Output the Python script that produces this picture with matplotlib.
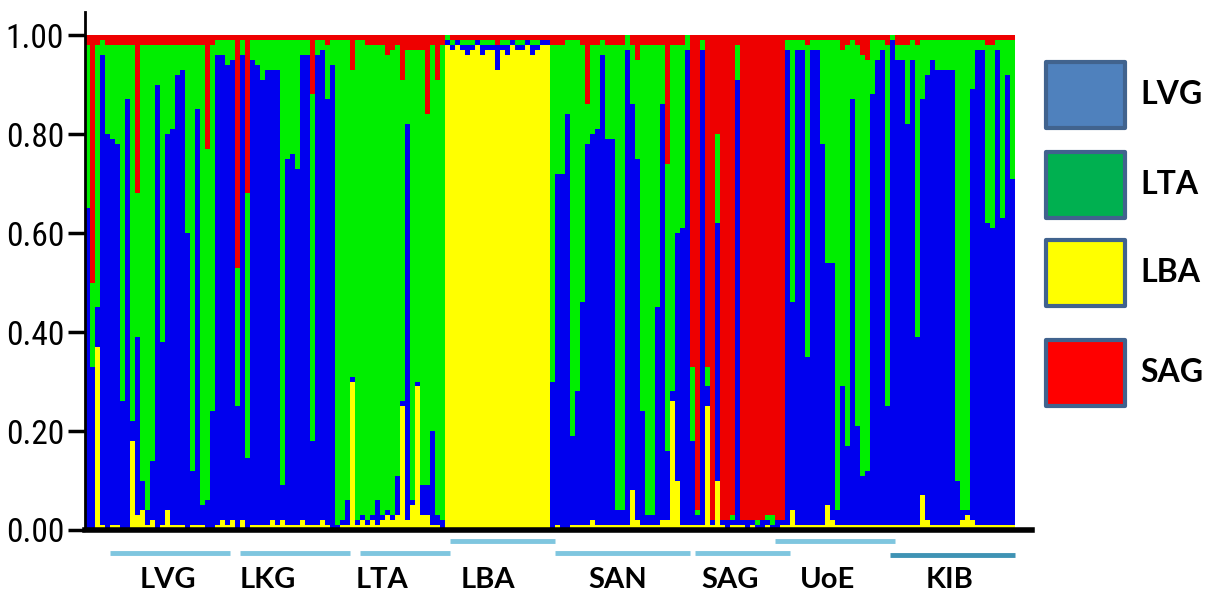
import matplotlib.pyplot as plt
from matplotlib.patches import Rectangle
from matplotlib import font_manager
import numpy as np

# membership coefficients per individual (bottom to top: LBA, LVG, LTA clusters, SAG = rest)
yellow = [
    0, 0, .37, .01, 0, .01, .01, 0, 0, .18, .03, .04, .01, .02, 0, .01, .04, .01, .01, .01,
    0, .01, .01, .01, 0, 0, .01, .02, .01, .02, 0, .02, 0, .01, .01, .01, .01, .02, .01, .02,
    .01, .01, .01, .02, .01, .01, .01, .02, .01, 0,
    0, .01, .01, .30, .01, .02, .01, .02, .01, .02, .03, .02, .03, .25, .02, .05, .29, .03, .03, .01,
    .01, 0,
    .98, .97, .98, .97, .96, .97, .98, .96, .97, .97, .93, .97, .96, .98, .97, .97, .98, .96, .97, .98,
    .98,
    0, .01, 0, 0, .01, .01, .01, .01, .02, .01, .01, .01, .01, .01, .01, .01, .08, .02, .01, .01,
    .01, .01, .02, .02, .26, .10, .01, .01, .01,
    .01, .01, .25, .01, .10, .01, 0, .01, .01, .01, 0, .01, 0, 0, .01, 0, 0, .01, .01,
    .04, .01, .01, .01, .01, .01, .01, .05, .02, .01, .01, .01, .01, .01, .01, .01, .01, .01, .01, .01,
    .01,
    .01, .01, .01, .01, .01, .07, .02, .01, .01, .01, .01, .01, .01, .02, .03, .02, .01, .01, .01, .01,
    .01, .01, .01, .01,
]
blue = [
    .65, .33, .08, .95, .80, .78, .77, .26, .87, .04, .36, .06, .03, .12, .90, .37, .76, .80, .91, .92,
    .60, .11, .84, .04, .06, .24, .95, .94, .93, .93, .25, .94, .145, .94, .93, .90, .92, .91, .92, .07,
    .74, .75, .72, .94, .95, .17, .95, .95, .86, .94,
    .01, .01, .05, .01, .01, .01, .01, .01, .05, .01, .01, .01, .08, .01, .80, .01, .01, .06, .06, .19,
    .02, .02,
    .01, .01, .01, .01, .02, .01, .01, .02, .01, .01, .05, .01, .02, .01, .01, .01, .01, .02, .01, .01,
    .01,
    .30, .71, .72, .84, .18, .27, .45, .77, .78, .80, .95, .78, .78, .03, .03, .96, .78, .73, .23, .02,
    .02, .44, .84, .14, .02, .50, .60, .96, .17,
    .02, .96, .04, .01, .52, .01, .02, .01, .90, .01, .02, .01, .01, .02, .01, .01, .02, .01, .96,
    .42, .96, .96, .34, .96, .96, .77, .49, .52, .03, .28, .16, .86, .20, .10, .11, .87, .94, .96, .24,
    .98,
    .94, .94, .81, .94, .38, .80, .90, .94, .92, .92, .92, .92, .09, .02, .01, .87, .96, .96, .61, .60,
    .96, .62, .91, .70,
]
green = [
    .33, .17, .53, .03, .18, .19, .20, .72, .11, .76, .29, .88, .94, .84, .08, .60, .18, .17, .06, .05,
    .38, .86, .13, .93, .71, .74, .03, .03, .05, .04, .28, .03, .535, .04, .05, .08, .06, .06, .06, .90,
    .24, .23, .26, .03, .03, .70, .03, .02, .11, .05,
    .98, .97, .93, .62, .97, .96, .96, .95, .92, .95, .92, .94, .87, .65, .15, .91, .67, .88, .75, .78,
    .88, .96,
    .01, .01, 0, .01, .01, .01, 0, .01, .01, .01, 0, .01, .01, 0, .01, .01, 0, .01, .01, 0,
    0,
    .68, .26, .26, .15, .80, .71, .52, .08, .18, .17, .03, .19, .19, .94, .94, .03, .12, .20, .74, .95,
    .95, .53, .12, .58, .70, .38, .37, .03, .15,
    .01, .02, .04, 0, .18, 0, 0, .01, .07, 0, 0, 0, .01, 0, .01, .02, 0, 0, .02,
    .53, .02, .02, .63, .02, .02, .21, .45, .45, .95, .68, .81, .12, .77, .85, .83, .11, .04, .02, .73,
    .01,
    .03, .03, .16, .04, .59, .12, .07, .04, .06, .06, .06, .06, .89, .95, .95, .10, .02, .02, .36, .37,
    .02, .36, .07, .28,
]

clusters = ["LVG", "LTA", "LBA", "SAG"]
legend_colors = ["#4f81bd", "#00b050", "#ffff00", "#ff0000"]

populations = ["LVG", "LKG", "LTA", "LBA", "SAN", "SAG", "UoE", "KIB"]
pop_first = [5, 31, 55, 73, 94, 122, 138, 161]
pop_last = [28, 52, 72, 93, 120, 140, 161, 185]
label_at = [16, 36, 59, 80, 106, 128.5, 148, 172.5]
raised = [False, False, False, True, False, False, True, False]

yticks = [0.0, 0.2, 0.4, 0.6, 0.8, 1.0]

bar_cols = ["#ffff00", "#0000ee", "#00ee00", "#ee0000"]

# narrow font for the tick labels if one is around
installed = {f.name for f in font_manager.fontManager.ttflist}
narrow = [n for n in ["Liberation Sans Narrow", "Roboto Condensed", "DejaVu Sans Condensed",
                      "Open Sans Condensed", "Noto Sans Display"] if n in installed]
tick_family = narrow[:1] + ["DejaVu Sans"]

yellow = np.array(yellow)
blue = np.array(blue)
green = np.array(green)
red = 1 - (yellow + blue + green)
x = np.arange(len(yellow))

fig = plt.figure(figsize=(12.14, 5.98), dpi=100)
ax = fig.add_axes([85 / 1214, 68 / 598, 947 / 1214, 518 / 598])

bottom = np.zeros(len(x))
for vals, col in zip([yellow, blue, green, red], bar_cols):
    ax.bar(x, vals, bottom=bottom, width=1.0, color=col, linewidth=0)
    bottom = bottom + vals

ax.set_xlim(-0.5, 188.9)
ax.set_ylim(0, 1.0465)
for s in ["top", "right"]:
    ax.spines[s].set_visible(False)
ax.spines["left"].set_linewidth(2)
ax.spines["bottom"].set_linewidth(4)
ax.set_xticks([])
ax.set_yticks(yticks)
ax.set_yticklabels([f"{v:.2f}" for v in yticks], fontfamily=tick_family, fontsize=24)
ax.tick_params(axis="y", length=12, width=2.5, pad=3)

tr = ax.get_xaxis_transform()
for name, a, b, up, lx in zip(populations, pop_first, pop_last, raised, label_at):
    lvl = -0.021 if up else -0.044
    col = "#7fc6df"
    if name == "KIB":
        lvl, col = -0.048, "#3f93b4"
    ax.plot([a - 0.5, b + 0.5], [lvl, lvl], transform=tr, clip_on=False,
            color=col, lw=3.5, solid_capstyle="butt")
    ax.text(lx, -0.097, name, transform=tr, ha="center", va="center",
            fontsize=21, fontweight="bold", fontfamily="Lato")

# legend drawn as boxes on the right
box_tops = [62, 152, 240, 340]
for name, col, top in zip(clusters, legend_colors, box_tops):
    y0 = 1 - (top + 66) / 598
    fig.add_artist(Rectangle((1046 / 1214, y0), 79 / 1214, 66 / 598,
                             transform=fig.transFigure, facecolor=col,
                             edgecolor="#41638e", linewidth=3, joinstyle="round"))
    fig.text(1140 / 1214, y0 + 33 / 598, name, ha="left", va="center",
             fontsize=23, fontweight="bold", fontfamily="Lato")

fig.savefig("out.png", dpi=100)
